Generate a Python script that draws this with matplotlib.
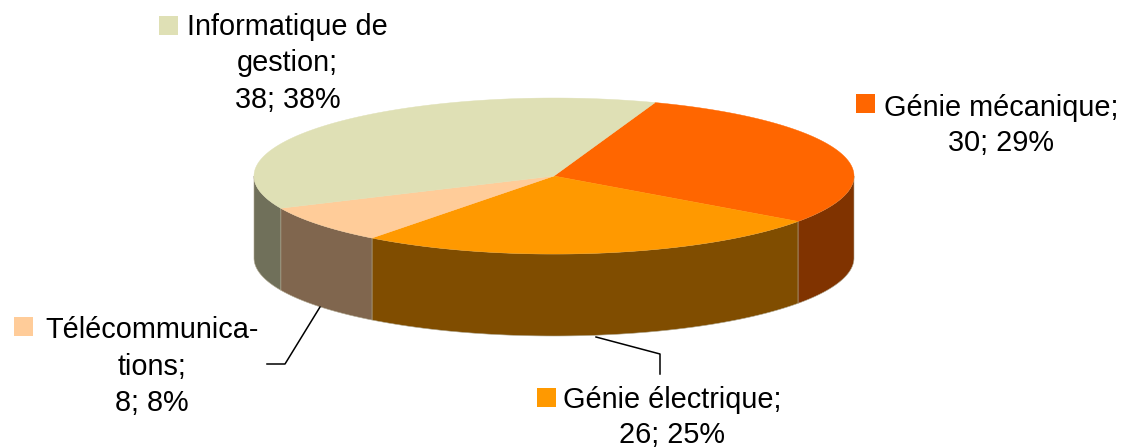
import numpy as np
import matplotlib
matplotlib.use("Agg")
import matplotlib.pyplot as plt
from matplotlib.patches import Polygon, Rectangle

plt.rcParams['font.family'] = ['Liberation Sans', 'DejaVu Sans']

# slices, clockwise from the start angle
names = ["Génie mécanique", "Génie électrique", "Télécommunica-\ntions", "Informatique de\ngestion"]
values = [30, 26, 8, 38]
percents = [29, 25, 8, 38]
top_colors = ["#FF6600", "#FF9900", "#FFCC99", "#DFE0B5"]
side_colors = ["#803300", "#804D00", "#80664E", "#70705A"]

# pie geometry in image pixels
cx, cy = 554, 176
rx, ry = 300, 78
depth = 82
start_angle = 70.3

# label centre, line spacing and colour key corner
label_pos = [(1001, 93.5), (672, 385.5), (152, 316.5), (287.5, 13)]
label_spacing = [1.32, 1.32, 1.385, 1.385]
key_pos = [(856, 94), (537, 388), (14, 317), (159, 16)]
key_size = 19


def ellipse(theta):
    return cx + rx * np.cos(theta), cy - ry * np.sin(theta)


fig = plt.figure(figsize=(11.22, 4.47), dpi=100)
ax = fig.add_axes([0, 0, 1, 1])
ax.set_xlim(0, 1122)
ax.set_ylim(447, 0)
ax.axis("off")

# turn the values into angle edges
edges = start_angle - np.cumsum([0] + values) / sum(values) * 360

# sides first, only the front half is visible
for i in range(len(values)):
    a0, a1 = edges[i], edges[i + 1]
    lo, hi = max(a1, -180), min(a0, 0)
    if lo >= hi:
        continue
    t = np.radians(np.linspace(hi, lo, 80))
    x, y = ellipse(t)
    pts = np.vstack([np.column_stack([x, y]), np.column_stack([x[::-1], y[::-1] + depth])])
    ax.add_patch(Polygon(pts, closed=True, fc=side_colors[i], ec="#B0A890", lw=0.4, zorder=2))

# top faces
for i in range(len(values)):
    t = np.radians(np.linspace(edges[i], edges[i + 1], 200))
    x, y = ellipse(t)
    pts = np.vstack([[cx, cy], np.column_stack([x, y])])
    ax.add_patch(Polygon(pts, closed=True, fc=top_colors[i], ec=top_colors[i], lw=0.3, zorder=3))

# labels
for i in range(len(values)):
    txt = f"{names[i]};\n{values[i]}; {percents[i]}%"
    ax.text(label_pos[i][0], label_pos[i][1], txt, ha="center", va="top", fontsize=20.8,
            color="black", linespacing=label_spacing[i], zorder=5)
    kx, ky = key_pos[i]
    ax.add_patch(Rectangle((kx, ky), key_size, key_size, fc=top_colors[i], ec="none", zorder=5))

# leader lines
ax.plot([267, 285, 320], [364, 364, 307], color="black", lw=1.1, zorder=4)
ax.plot([660, 660, 596], [374, 354, 337], color="black", lw=1.1, zorder=4)

fig.savefig("out.png", dpi=100, facecolor="white")
